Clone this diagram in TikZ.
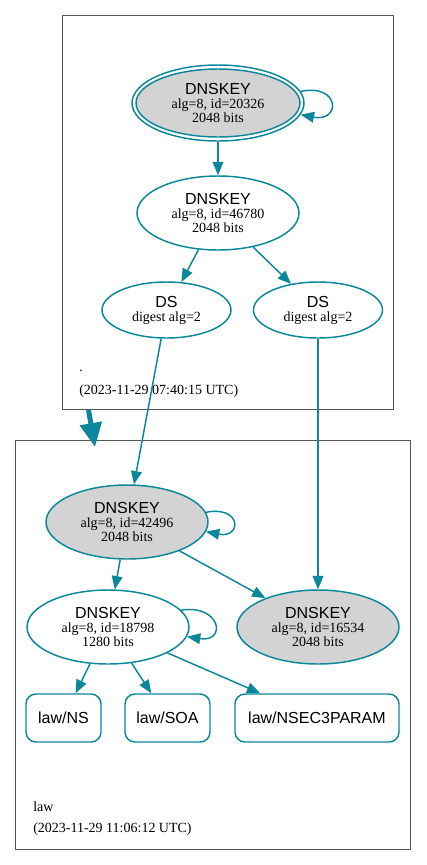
\documentclass[tikz,border=0pt]{standalone}
\usepackage{fontspec}
\setmainfont{Liberation Serif}
\newfontfamily\sansf{Liberation Sans}
\usetikzlibrary{arrows.meta,shapes.geometric}
\definecolor{tealz}{HTML}{0A879A}
\definecolor{fillg}{HTML}{D3D3D3}
\definecolor{clusg}{HTML}{555555}
\newcommand\serifsz{\fontsize{10.5}{9}\selectfont}
\newcommand\titlesz{\sansf\fontsize{12}{9}\selectfont}
\begin{document}
\begin{tikzpicture}[x=0.75pt,y=-0.75pt,
  edge/.style={draw=tealz, line width=1.1pt, -{Triangle[length=10pt,width=8pt]}},
  bigedge/.style={draw=tealz, line width=3.75pt, -{Triangle[length=18pt,width=16pt]}},
  key/.style={ellipse, draw=tealz, line width=1.1pt, minimum width=121.5pt, minimum height=55.5pt, inner sep=0pt, align=center, font=\serifsz},
  dsnode/.style={ellipse, draw=tealz, line width=1.1pt, minimum width=96.75pt, minimum height=42pt, inner sep=0pt, align=center, font=\serifsz},
  rrbox/.style={rectangle, rounded corners=7.5pt, draw=tealz, line width=1.1pt, minimum height=36pt, inner sep=0pt, font=\titlesz},
  cluster/.style={rectangle, draw=clusg, line width=0.75pt, inner sep=0pt},
  clabel/.style={anchor=base west, inner sep=0pt, font=\serifsz}
]
\useasboundingbox (0,0) rectangle (427,865);

% clusters
\node[cluster, minimum width=248.25pt, minimum height=295.5pt] (z1) at (227.5,212) {};
\node[cluster, minimum width=296.25pt, minimum height=306.75pt] (z2) at (212.5,644.5) {};
\node[clabel] (l1) at (79,371) {.};
\node[clabel] (l2) at (79,394) {(2023-11-29 07:40:15 UTC)};
\node[clabel] (l3) at (33,811) {law};
\node[clabel] (l4) at (33,832) {(2023-11-29 11:06:12 UTC)};

% root zone
\node[ellipse, draw=tealz, line width=1.1pt, minimum width=129pt, minimum height=57pt, inner sep=0pt] (k1) at (218,103) {};
\node[key, fill=fillg, minimum width=123pt, minimum height=51pt] (k1in) at (218,103) {{\titlesz DNSKEY}\\[1.5pt]alg=8, id=20326\\2048 bits};
\node[key] (k2) at (218,213) {{\titlesz DNSKEY}\\[1.5pt]alg=8, id=46780\\2048 bits};
\node[dsnode] (ds1) at (166.5,310) {{\titlesz DS}\\[1.5pt]digest alg=2};
\node[dsnode] (ds2) at (318,310) {{\titlesz DS}\\[1.5pt]digest alg=2};

% law zone
\node[key, fill=fillg] (k3) at (127,522) {{\titlesz DNSKEY}\\[1.5pt]alg=8, id=42496\\2048 bits};
\node[key] (k4) at (108,627) {{\titlesz DNSKEY}\\[1.5pt]alg=8, id=18798\\1280 bits};
\node[key, fill=fillg] (k5) at (318,627) {{\titlesz DNSKEY}\\[1.5pt]alg=8, id=16534\\2048 bits};
\node[rrbox, minimum width=56.25pt] (ns) at (63.5,718) {law/NS};
\node[rrbox, minimum width=63.75pt] (soa) at (167.5,718) {law/SOA};
\node[rrbox, minimum width=123pt] (n3p) at (317,718) {law/NSEC3PARAM};

% edges
\draw[edge] (k1.8) .. controls +(40,-8) and +(40,8) .. (k1.-8);
\draw[edge] (k1) -- (k2);
\draw[edge] (k2) -- (ds1);
\draw[edge] (k2) -- (ds2);
\draw[edge] (ds1) -- (k3);
\draw[edge] (ds2) -- (k5);
\coordinate (t1) at (88.5,410);
\coordinate (t2) at (95,447);
\draw[bigedge] (t1) -- (t2);
\draw[edge] (k3.7) .. controls +(36,-7) and +(36,7) .. (k3.-7);
\draw[edge] (k3) -- (k4);
\draw[edge] (k3) -- (k5);
\draw[edge] (k4.13) .. controls +(40,-6) and +(40,6) .. (k4.-7);
\draw[edge] (k4) -- (ns);
\draw[edge] (k4) -- (soa);
\draw[edge] (k4) -- (n3p);
\end{tikzpicture}
\end{document}
